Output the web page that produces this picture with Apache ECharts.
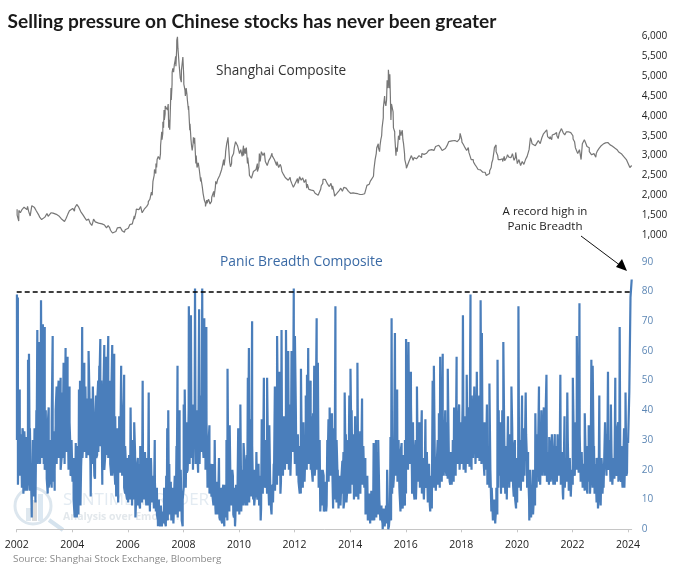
<!DOCTYPE html>
<html><head><meta charset="utf-8">
<style>html,body{margin:0;padding:0;background:#fff}#c{width:679px;height:573px}</style>
<script src="https://cdn.jsdelivr.net/npm/echarts@6/dist/echarts.min.js"></script>
</head><body><div id="c"></div>
<script>
const chartTitle = "Selling pressure on Chinese stocks has never been greater";
const sourceNote = "Source: Shanghai Stock Exchange, Bloomberg";
const priceName = "Shanghai Composite";
const panicName = "Panic Breadth Composite";
const noteLine1 = "A record high in";
const noteLine2 = "Panic Breadth";
const recordLine = 80;
const startYear = 2002;
const lastYearSpan = 0.13;

const s2002=[1650,1350,1560,1640,1600,1720,1640,1600,1480,1740,1720,1660,1620,1520,1470,1390,1420];
const s2003=[1450,1500,1470,1510,1610,1550,1570,1520,1500,1440,1410,1370,1340,1420,1520,1610,1640];
const s2004=[1670,1600,1720,1780,1650,1620,1500,1430,1370,1420,1300,1240,1400,1330,1370,1290];
const s2005=[1290,1280,1330,1230,1200,1240,1180,1090,1010,1100,1090,1180,1210,1170,1110,1100,1130,1160];
const s2006=[1170,1260,1290,1240,1400,1570,1680,1640,1720,1560,1600,1680,1720,1840,1900,2080,2350,2650];
const s2007=[2550,2700,2950,2850,3000,2900,3050,3200,3400,3560,3700,3900,4050,4200,4300,4150,4300,3900,3650,3600,4400,4800,5200,5100,5300,5400,5250,5700,5990,5650,5750,5300,5000,4850,5300,5480];
const s2008=[5000,4650,4700,4400,4250,3640,3400,3130,3460,3300,2800,2700,2820,2600,2350,2280,2050,1880,1720,1880,1750,1900,1820];
const s2009=[1850,2000,1950,2200,2280,2450,2350,2550,2650,2800,2750,3000,3300,3460,3000,2720,2950,2900,3200,3350,3300,3200];
const s2010=[3250,3150,2980,3000,3180,3200,2950,2650,2550,2450,2380,2550,2650,2600,2720,2850,3150,3000,3070,2900];
const s2011=[2750,2880,2950,3000,3050,2950,2850,2700,2780,2600,2560,2450,2400,2350,2450,2300,2200];
const s2012=[2250,2350,2300,2470,2380,2440,2320,2400,2280,2150,2180,2080,2120,2050,2070,2000,1990,2240];
const s2013=[2300,2450,2350,2330,2220,2300,2240,2050,1950,2060,2120,2180,2100,2190,2220,2130,2120];
const s2014=[2050,2020,2080,2030,2060,2030,2010,2020,2060,2030,2250,2200,2350,2300,2480,2900,3200];
const s2015=[3300,3100,3400,3700,4200,4500,4250,4900,5160,4700,3900,4300,3700,3600,3000,3100,3500,3650,3500,3640,3300,2900];
const s2016=[2750,2700,2900,3000,2880,3000,2950,2900,2980,3050,3000,3080,3020,3130,3180,3100];
const s2017=[3130,3230,3280,3300,3200,3130,3100,3180,3250,3350,3300,3370,3400,3330,3430,3300,3560];
const s2018=[3400,3280,3200,3130,3200,3000,2850,2900,2780,2720,2650,2700,2600,2560,2630,2500,2530];
const s2019=[2550,2700,2900,3200,3270,3000,2880,2950,2850,2980,2900,3020,2930,3000,3050,2880,3080];
const s2020=[2800,2900,2750,2850,2780,2900,2980,3000,3450,3300,3350,3250,3320,3400,3300,3450,3550];
const s2021=[3500,3650,3450,3480,3400,3560,3500,3580,3430,3600,3680,3580,3520,3600,3560,3640,3550];
const s2022=[3500,3350,3150,3000,3150,2900,3250,3400,3300,3250,3200,3050,2980,3100,2960,3120,3180];
const s2023=[3220,3260,3310,3280,3370,3300,3270,3240,3230,3160,3150,3090,3060,3020,2980,2960,2880];
const s2024=[2950,2700,2750];

const t2002=[1500,1620,1560,1690,1700,1650,1720,1560,1520,1690,1690,1610,1560,1450,1420,1400];
const t2003=[1480,1540,1490,1560,1590,1530,1540,1480,1470,1400,1350,1390,1480,1580];
const t2004=[1620,1680,1770,1700,1590,1560,1450,1390,1400,1340,1300,1360,1370,1300];
const t2005=[1260,1310,1250,1180,1220,1120,1050,1060,1130,1190,1190,1120,1070,1140];
const t2006=[1220,1310,1280,1480,1650,1700,1680,1580,1650,1700,1780,1870,2000,2500];
const t2007=[2800,2900,2980,3000,3250,3600,3850,4150,4250,4200,4200,3700,3600,4700,5100,5200,5350,5500,5900,5700,5300,4950,5150,5350];
const t2008=[4800,4500,4550,4150,3800,3250,3300,3450,3000,2750,2650,2450,2200,2000,1800,1800,1900,1780];
const t2009=[1950,2100,2350,2400,2500,2700,2900,3100,3400,2850,2800,3050,3300,3250];
const t2010=[3050,3100,3250,3050,2800,2500,2430,2600,2620,2800,3050,3100,2950,2850];
const t2011=[2800,2900,3060,2900,2750,2680,2700,2520,2430,2380,2380,2250];
const t2012=[2300,2420,2420,2330,2360,2180,2120,2130,2080,2030,2000,2150];
const t2013=[2400,2400,2280,2250,2150,1980,2050,2150,2150,2200,2180,2100];
const t2014=[2030,2060,2050,2040,2020,2040,2040,2200,2280,2340,2650,3050];
const t2015=[3200,3250,3500,3950,4350,4400,4700,5050,4300,4100,3500,3200,3050,3400,3560,3400,3050];
const t2016=[2680,2850,2950,2950,2920,3000,2950,3030,3060,3100,3150];
const t2017=[3180,3250,3260,3150,3130,3220,3300,3320,3390,3380,3350,3420];
const t2018=[3340,3240,3150,3080,2900,2840,2750,2680,2640,2580,2580,2520];
const t2019=[2620,2820,3100,3100,2900,2900,2920,2870,2960,2960,2950,3020,2950];
const t2020=[2850,2820,2780,2820,2880,3150,3380,3300,3300,3380,3340,3450];
const t2021=[3580,3480,3420,3520,3540,3500,3560,3640,3540,3560,3600,3580];
const t2022=[3420,3200,3050,3100,3300,3350,3230,3100,3020,3050,3050,3150];
const t2023=[3240,3290,3320,3330,3270,3230,3190,3120,3070,3040,2960,2900];

const p2002=[79,78,35,47,32,22,34,12,33,13,31,13,57,59,34,16,4,18,11,34,9,40,67,30,63,22,77,45,69,24];
const p2003=[68,22,19,12,41,17,30,14,65,20,13,35,48,22,50,24,51,24,46,56,28,61,40,58,20,48,26,19];
const p2004=[17,10,4,29,4,28,47,50,21,68,30,56,26,44,27,60,30,11,41,48,24,17,45,25,50,55];
const p2005=[64,30,15,38,62,25,58,30,65,28,50,18,62,24,59,15,11,30,9,33,19,55,25,40,52,12,20,10];
const p2006=[9,22,41,12,30,36,4,20,24,9,28,14,50,10,26,8,16,46,6,22,9,18,30];
const p2007=[12,5,1,3,1,8,1,5,14,2,18,34,40,22,12,3,14,2,15,8,28,55,25,40,15,5,1];
const p2008=[42,47,14,19,22,75,45,72,30,20,40,81,39,30,19,74,33,45,81,26,71,40,68,19,14,35,12];
const p2009=[16,11,20,30,5,15,8,24,3,14,2,15,1,12,30,54,16,35,20,8,18,4,1,15,8,34];
const p2010=[5,42,6,20,29,15,8,25,51,61,37,11,70,20,8,20,26,10,22,9,3,37,12,51,20,15];
const p2011=[51,17,35,12,5,15,22,48,30,65,24,53,12,67,24,38,21,67,28,60,30,18,60,35,81];
const p2012=[65,30,28,16,12,54,20,36,16,45,52,61,25,50,20,39,55,22,71,56,16,6,14];
const p2013=[20,6,15,6,30,37,41,22,39,7,25,75,30,20,10,18,8,23,7,46,32,12,30,45];
const p2014=[54,40,22,10,38,12,56,33,25,33,44,20,15,5,16,3,10,2,13,3,29,10,30,26];
const p2015=[30,10,6,4,0,5,2,8,20,0,3,31,71,30,17,66,33,47,24,14,6,29,7,25,8];
const p2016=[64,30,63,28,53,12,24,10,30,48,18,36,14,40,18,10,37,15,9,22,6,18,50];
const p2017=[55,20,13,30,39,58,30,59,28,40,18,54,20,15,16,30,41,38,58,24,42,30];
const p2018=[22,72,20,30,52,22,41,79,45,24,48,22,53,24,45,77,66,35,18,20,42,22];
const p2019=[49,20,14,3,8,2,14,57,40,24,12,35,63,30,17,10,38,22,30,48,20,11,30,7];
const p2020=[18,75,20,13,45,25,18,46,24,20,3,8,4,20,15,39,14,32,48,15,40,18,41];
const p2021=[30,52,18,31,16,22,15,32,18,32,20,52,15,10,38,22,46,15,20,11];
const p2022=[51,20,30,65,24,76,22,20,14,39,20,12,35,12,57,55,28,14,24,7,45];
const p2023=[8,20,14,36,24,53,22,42,15,22,51,18,36,68,16,14,34,46,19];
const p2024=[29,46,78,84];

const b2002=[30,15,34,18,30,14,33,12,28,14,31,16,25,13,22,12,30,16,34,20,38,22,44,26,48,24,50,22];
const b2003=[20,40,17,35,14,30,18,36,16,33,20,40,22,44,24,38,20,42,24,46,22,40,26,44,20,36,18,30];
const b2004=[16,24,10,20,6,16,5,18,8,25,24,45,26,48,24,42,25,46,23,44,22,40,18,36,24,44,26,48];
const b2005=[28,50,24,44,20,46,25,48,24,42,22,44,18,40,22,38,16,34,18,38,20,44,18,36,14,28,12,24];
const b2006=[12,25,10,22,8,24,10,26,9,20,8,22,7,18,9,22,11,26,10,24,8,20,10,24,9,18,7,16];
const b2007=[6,14,3,10,2,8,1,6,2,8,1,6,3,12,5,16,4,14,6,18,5,14,4,16,6,20,3,10];
const b2008=[14,30,18,36,20,40,22,44,24,42,20,38,22,40,24,44,22,38,26,46,24,42,20,36,14,28,12,22];
const b2009=[11,22,8,18,7,16,5,14,4,13,3,12,5,15,4,14,3,13,6,18,8,20,5,14,3,12,6,16];
const b2010=[7,20,6,18,8,24,10,22,8,26,9,30,11,28,10,20,12,18,11,20,8,18,7,20,12,24,14,30];
const b2011=[12,24,8,18,7,14,9,18,13,28,15,34,18,36,16,34,18,32,20,38,22,40,20,42,24,44,26,46];
const b2012=[22,40,18,32,16,28,12,24,14,26,16,32,20,36,22,40,20,38,16,32,18,36,20,42,14,30,9,20];
const b2013=[8,18,7,16,8,20,16,34,18,36,16,34,10,24,9,18,7,16,8,18,12,26,10,24,9,22,12,28];
const b2014=[12,28,15,32,13,26,11,24,10,22,12,26,15,28,14,24,8,18,5,12,4,12,3,11,3,14,4,16];
const b2015=[5,10,3,8,2,7,1,6,2,8,1,6,3,12,14,34,18,36,16,30,12,26,9,22,10,30];
const b2016=[12,30,20,40,22,42,18,36,12,26,10,22,16,30,14,28,12,24,10,22,14,26,9,20,8,18,7,16];
const b2017=[14,24,13,22,15,26,14,28,16,30,18,34,20,36,17,28,16,26,15,24,16,28,18,32,22,38,20,36];
const b2018=[22,42,20,38,19,34,22,40,21,36,20,34,24,44,22,36,24,42,23,38,22,34,24,36,20,30,15,26];
const b2019=[14,20,6,14,3,10,3,8,5,14,18,36,20,40,14,30,12,28,10,26,14,32,16,34,14,28,10,24];
const b2020=[9,20,14,30,13,28,16,34,18,32,14,26,10,20,4,10,5,12,8,18,14,24,16,28,15,26,18,34];
const b2021=[18,30,16,26,15,28,17,32,18,26,15,28,16,24,18,30,15,26,12,22,14,24,16,30,13,24,11,20];
const b2022=[15,30,18,36,20,34,19,32,16,26,14,22,13,24,14,28,16,30,18,32,14,26,12,22,9,20,10,24];
const b2023=[13,24,12,22,14,26,18,32,20,30,16,26,15,24,17,28,19,34,16,30,17,28,15,24,14,26,18,30];

const priceMain=[s2002,s2003,s2004,s2005,s2006,s2007,s2008,s2009,s2010,s2011,s2012,s2013,s2014,s2015,s2016,s2017,s2018,s2019,s2020,s2021,s2022,s2023,s2024];
const priceFine=[t2002,t2003,t2004,t2005,t2006,t2007,t2008,t2009,t2010,t2011,t2012,t2013,t2014,t2015,t2016,t2017,t2018,t2019,t2020,t2021,t2022,t2023];
const panicMain=[p2002,p2003,p2004,p2005,p2006,p2007,p2008,p2009,p2010,p2011,p2012,p2013,p2014,p2015,p2016,p2017,p2018,p2019,p2020,p2021,p2022,p2023,p2024];
const panicBand=[b2002,b2003,b2004,b2005,b2006,b2007,b2008,b2009,b2010,b2011,b2012,b2013,b2014,b2015,b2016,b2017,b2018,b2019,b2020,b2021,b2022,b2023];

const lastIdx=priceMain.length-1;
const endYear=startYear+lastIdx+lastYearSpan;
function toPairs(groups){
  const out=[];
  groups.forEach((g,k)=>g.forEach((v,i)=>{
    const frac=k===lastIdx?lastYearSpan*i/(g.length-1):(i+0.25)/g.length;
    out.push([startYear+k+frac,v]);
  }));
  return out;
}
function merged(a,b){return toPairs(a).concat(toPairs(b)).sort((p,q)=>p[0]-q[0]);}

const F='"Open Sans",sans-serif';
const chart=echarts.init(document.getElementById('c'),null,{renderer:'canvas'});
const L=16.7,R=47.3;
chart.setOption({
  animation:false,backgroundColor:'#fff',
  grid:[{left:L,right:R,top:36.5,height:198.5},{left:L,right:R,top:261.7,height:267.6}],
  xAxis:[
    {gridIndex:0,type:'value',min:startYear,max:endYear,interval:2,show:false},
    {gridIndex:1,type:'value',min:startYear,max:endYear,interval:2,splitLine:{show:false},
     axisLine:{lineStyle:{color:'#c6c6c6',width:1}},axisTick:{length:3,lineStyle:{color:'#c6c6c6'}},
     axisLabel:{showMaxLabel:false,showMinLabel:true,margin:10,color:'#222',fontFamily:F,fontSize:10.5,hideOverlap:false,formatter:v=>String(v)}}
  ],
  yAxis:[
    {gridIndex:0,type:'value',position:'right',min:1000,max:6000,interval:500,splitLine:{show:false},axisLine:{show:false},axisTick:{show:false},
     axisLabel:{margin:10,color:'#222',fontFamily:F,fontSize:10,formatter:v=>v.toLocaleString('en-US')}},
    {gridIndex:1,type:'value',position:'right',min:0,max:90,interval:10,splitLine:{show:false},axisLine:{show:false},axisTick:{show:false},
     axisLabel:{margin:10,color:'#5d87b5',fontFamily:F,fontSize:10}}
  ],
  series:[
    {type:'line',name:priceName,xAxisIndex:0,yAxisIndex:0,data:merged(priceMain,priceFine),showSymbol:false,symbol:'none',
     lineStyle:{color:'#777',width:1.2},z:3},
    {type:'line',name:panicName,xAxisIndex:1,yAxisIndex:1,data:merged(panicMain,panicBand),showSymbol:false,symbol:'none',clip:false,
     lineStyle:{color:'#4a7ebb',width:2.2,join:'bevel'},z:3,
     markLine:{silent:true,symbol:'none',label:{show:false},animation:false,
       lineStyle:{color:'#000',type:[5,3],width:1.5},
       data:[[{coord:[startYear,recordLine]},{coord:[endYear,recordLine]}]]}}
  ],
  graphic:[
    {type:'text',left:7.5,top:12,z:10,style:{text:chartTitle,fill:'#1a1a1a',font:'bold 19.1px Lato, sans-serif'}},
    {type:'text',left:216,top:64,z:10,style:{text:priceName,fill:'#333',font:'13.6px "Open Sans", sans-serif'}},
    {type:'text',left:220,top:255,z:10,style:{text:panicName,fill:'#3a6aa5',font:'13.8px "Open Sans", sans-serif'}},
    {type:'text',z:10,style:{x:545,y:206,text:noteLine1,fill:'#222',align:'center',font:'11.5px "Open Sans", sans-serif'}},
    {type:'text',z:10,style:{x:545,y:221,text:noteLine2,fill:'#222',align:'center',font:'11.5px "Open Sans", sans-serif'}},
    {type:'text',left:13,top:554,z:10,style:{text:sourceNote,fill:'#8a8a8a',font:'9.85px "Open Sans", sans-serif'}},
    {type:'line',z:10,shape:{x1:581,y1:236,x2:621,y2:266},style:{stroke:'#111',lineWidth:1}},
    {type:'polygon',z:10,shape:{points:[[627,271],[616,267],[622,259]]},style:{fill:'#000'}},
    {type:'rect',z:0,shape:{x:26,y:508,width:5,height:13},style:{fill:'#dfe8ef'}},
    {type:'rect',z:0,shape:{x:32,y:500,width:5,height:21},style:{fill:'#dcdcdc'}},
    {type:'rect',z:0,shape:{x:38,y:494,width:5,height:27},style:{fill:'#dce8f2'}},
    {type:'circle',z:0,shape:{cx:33,cy:506,r:18},style:{fill:'none',stroke:'#dce6ee',lineWidth:3}},
    {type:'line',z:0,shape:{x1:49,y1:520,x2:63,y2:530},style:{stroke:'#d5e3ee',lineWidth:4}},
    {type:'text',left:63,top:492,z:0,style:{text:'SENTIMENTRADER',fill:'#e3ebf2',font:'17px "Open Sans", sans-serif'}},
    {type:'text',left:63,top:512,z:0,style:{text:'Analysis over Emotion',fill:'#e3e8ec',font:'bold 10.5px "Open Sans", sans-serif'}}
  ]
});
</script></body></html>
